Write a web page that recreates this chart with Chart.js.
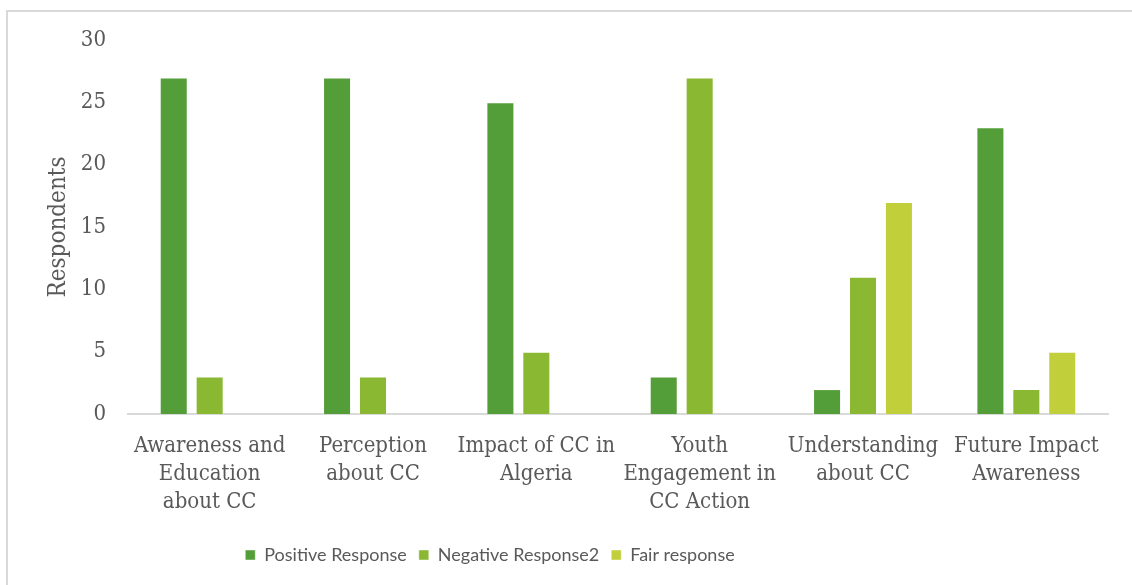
<!DOCTYPE html>
<html>
<head>
<meta charset="utf-8">
<script src="https://cdn.jsdelivr.net/npm/chart.js@4"></script>
<style>
  html, body { margin: 0; padding: 0; background: #fff; overflow: hidden; }
  #frame { position: absolute; left: 6px; top: 10px; width: 1140px; height: 590px; border: 2px solid #d9d9d9; box-sizing: border-box; }
  #wrap { position: absolute; left: 0; top: 0; width: 1132px; height: 585px; }
</style>
</head>
<body>
<div id="frame"></div>
<div id="wrap"><canvas id="resp-plot" width="1132" height="585"></canvas></div>
<script>
// categories (multi-line labels as they wrap in the picture)
let categories = [
    ['Awareness and', 'Education', 'about CC'],
    ['Perception', 'about CC'],
    ['Impact of CC in', 'Algeria'],
    ['Youth', 'Engagement in', 'CC Action'],
    ['Understanding', 'about CC'],
    ['Future Impact', 'Awareness']
]
let positive_vals = [27, 27, 25, 3, 2, 23]
let negative_vals = [3, 3, 5, 27, 11, 2]
let fair_vals = [0, 0, 0, 0, 17, 5]
let y_ticks = [0, 5, 10, 15, 20, 25, 30]

let serif_font = '"DejaVu Serif Condensed", "DejaVu Serif", serif'
let sans_font = 'Lato, "Open Sans", sans-serif'
let text_color = '#595959'

// legend sits left of centre in the original
let legend_shift = {
    id: 'legend_shift',
    afterLayout(chart) {
        chart.legend.left -= 86
        chart.legend.right -= 86
    }
}

function make_dataset(label, vals, color) {
    return {
        label: label,
        data: vals,
        backgroundColor: color,
        borderColor: 'rgba(255,255,255,0.45)',
        borderWidth: 1,
        categoryPercentage: 0.66,
        barPercentage: 0.78
    }
}

document.addEventListener('DOMContentLoaded', () => {
    Chart.defaults.color = text_color
    let ctx = document.getElementById('resp-plot')
    new Chart(ctx, {
        type: 'bar',
        data: {
            labels: categories,
            datasets: [
                make_dataset('Positive Response', positive_vals, '#549e39'),
                make_dataset('Negative Response2', negative_vals, '#8ab833'),
                make_dataset('Fair response', fair_vals, '#c0cf3a')
            ]
        },
        plugins: [legend_shift],
        options: {
            responsive: false,
            animation: false,
            layout: { padding: { left: 44, right: 24, top: 40, bottom: 11 } },
            plugins: {
                tooltip: { enabled: false },
                legend: {
                    position: 'bottom',
                    labels: {
                        boxWidth: 10,
                        boxHeight: 10,
                        padding: 12,
                        color: text_color,
                        font: { family: sans_font, size: 18 }
                    }
                }
            },
            scales: {
                x: {
                    grid: { display: false, drawTicks: false },
                    border: { display: true, color: '#d9d9d9', width: 2 },
                    ticks: {
                        autoSkip: false,
                        maxRotation: 0,
                        padding: 18,
                        color: text_color,
                        font: { family: serif_font, size: 22, lineHeight: 1.27 }
                    },
                    afterFit: (scale) => { scale.height = 120 }
                },
                y: {
                    min: 0,
                    max: 30,
                    grid: { display: false, drawTicks: false },
                    border: { display: false },
                    afterBuildTicks: (scale) => { scale.ticks = y_ticks.map(v => ({ value: v })) },
                    ticks: {
                        padding: 22,
                        color: text_color,
                        font: { family: serif_font, size: 22 }
                    },
                    title: {
                        display: true,
                        text: 'Respondents',
                        color: text_color,
                        padding: 0,
                        font: { family: serif_font, size: 24 }
                    },
                    afterFit: (scale) => { scale.width = 84 }
                }
            }
        }
    })
})
</script>
</body>
</html>
